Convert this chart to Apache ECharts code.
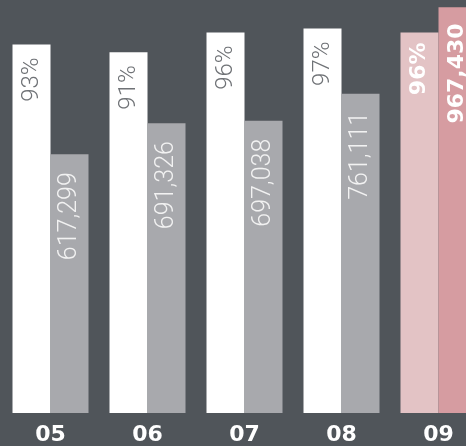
<!DOCTYPE html>
<html>
<head>
<meta charset="utf-8">
<script src="https://cdn.jsdelivr.net/npm/echarts@6/dist/echarts.min.js"></script>
<style>
html,body{margin:0;padding:0;background:#50555a;}
#c{width:466px;height:446px;}
</style>
</head>
<body>
<div id="c"></div>
<script>
var categories = ['05', '06', '07', '08', '09'];
var percentValues = [93, 91, 96, 97, 96];
var countValues = [617299, 691326, 697038, 761111, 967430];

var chart = echarts.init(document.getElementById('c'), null, {renderer: 'canvas'});

function fmtNum(v) {
  return String(v).replace(/\B(?=(\d{3})+(?!\d))/g, ',');
}

var lastIdx = categories.length - 1;
var lightFont = '"Roboto", "Lato", sans-serif';

var pctData = percentValues.map(function (v, i) {
  if (i === lastIdx) {
    return {
      value: v,
      itemStyle: {color: '#e3c3c5'},
      label: {color: '#ffffff', fontWeight: 'bold', fontFamily: 'DejaVu Sans', fontSize: 22, distance: 10}
    };
  }
  return v;
});
var countData = countValues.map(function (v, i) {
  if (i === lastIdx) {
    return {
      value: v,
      itemStyle: {color: '#d69ca1'},
      label: {color: '#ffffff', fontWeight: 'bold', fontFamily: 'DejaVu Sans', fontSize: 22, distance: 16}
    };
  }
  return v;
});

var option = {
  backgroundColor: '#50555a',
  animation: false,
  grid: {left: 2, top: 0, width: 485, height: 413, outerBoundsMode: 'none', containLabel: false},
  xAxis: {
    type: 'category',
    data: categories,
    axisLine: {show: false},
    axisTick: {show: false},
    axisLabel: {
      color: '#ffffff',
      fontWeight: 'bold',
      fontFamily: 'DejaVu Sans',
      fontSize: 22,
      margin: 11
    }
  },
  yAxis: [
    {type: 'value', min: 0, max: 104.2, show: false, splitLine: {show: false}},
    {type: 'value', min: 0, max: 985000, show: false, splitLine: {show: false}}
  ],
  series: [
    {
      type: 'bar',
      yAxisIndex: 0,
      data: pctData,
      barWidth: 38,
      barGap: '0%',
      itemStyle: {color: '#ffffff'},
      label: {
        show: true,
        position: 'insideTop',
        rotate: 90,
        align: 'right',
        verticalAlign: 'middle',
        distance: 13,
        color: '#6f7276',
        fontFamily: lightFont,
        fontWeight: 300,
        fontSize: 24,
        formatter: function (p) { return p.value + '%'; }
      }
    },
    {
      type: 'bar',
      yAxisIndex: 1,
      data: countData,
      barWidth: 38,
      barGap: '0%',
      itemStyle: {color: '#a8a9ad'},
      label: {
        show: true,
        position: 'insideTop',
        rotate: 90,
        align: 'right',
        verticalAlign: 'middle',
        distance: 18,
        color: '#f2f2f2',
        fontFamily: lightFont,
        fontWeight: 300,
        fontSize: 25,
        formatter: function (p) { return fmtNum(p.value); }
      }
    }
  ]
};
chart.setOption(option);
</script>
</body>
</html>
